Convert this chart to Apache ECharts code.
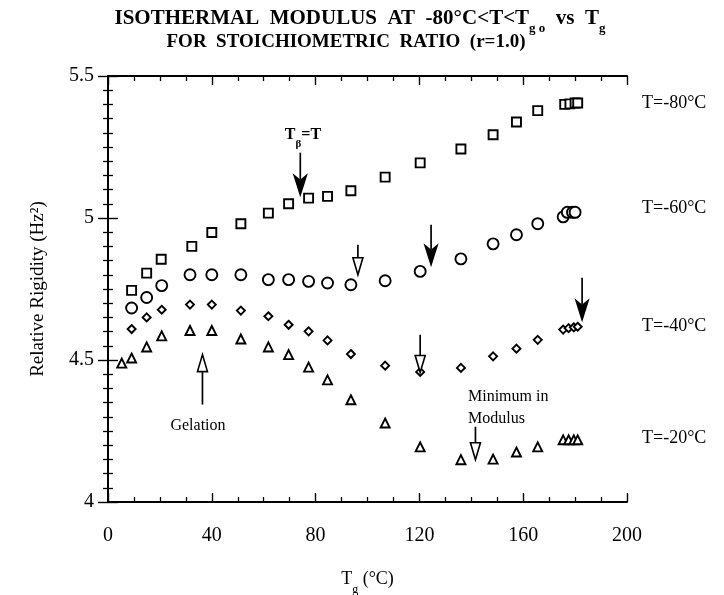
<!DOCTYPE html>
<html><head><meta charset="utf-8">
<script src="https://cdn.jsdelivr.net/npm/echarts@6/dist/echarts.min.js"></script>
<style>html,body{margin:0;padding:0;background:#fff}#c{width:724px;height:595px}</style>
</head><body><div id="c"></div>
<script>
// T = -80 °C (squares)
const sqX = [9.1, 14.9, 20.5, 32.3, 40, 51.2, 61.8, 69.6, 77.3, 84.6, 93.6, 106.8, 120.3, 136, 148.4, 157.4, 165.6, 176, 178, 180, 181];
const sqY = [4.745, 4.806, 4.855, 4.90, 4.949, 4.98, 5.017, 5.05, 5.07, 5.076, 5.096, 5.144, 5.194, 5.243, 5.293, 5.338, 5.378, 5.40, 5.402, 5.405, 5.405];
// T = -60 °C (circles)
const ciX = [9.1, 14.9, 20.7, 31.6, 40, 51.2, 61.8, 69.6, 77.3, 84.6, 93.6, 106.8, 120.3, 136, 148.4, 157.4, 165.6, 175.4, 177, 179, 180];
const ciY = [4.683, 4.72, 4.762, 4.80, 4.80, 4.80, 4.783, 4.783, 4.777, 4.771, 4.765, 4.779, 4.812, 4.856, 4.909, 4.941, 4.98, 5.004, 5.02, 5.02, 5.02];
// T = -40 °C (diamonds)
const diX = [9.1, 14.9, 20.7, 31.6, 40, 51.2, 61.8, 69.6, 77.3, 84.6, 93.6, 106.8, 120.3, 136, 148.4, 157.4, 165.6, 175.4, 177.5, 179.5, 181];
const diY = [4.609, 4.65, 4.677, 4.695, 4.695, 4.674, 4.654, 4.624, 4.601, 4.569, 4.521, 4.48, 4.458, 4.472, 4.513, 4.54, 4.571, 4.607, 4.612, 4.615, 4.617];
// T = -20 °C (triangles)
const trX = [5.3, 9.1, 14.9, 20.7, 31.6, 40, 51.2, 61.8, 69.6, 77.3, 84.6, 93.6, 106.8, 120.3, 136, 148.4, 157.4, 165.6, 175.4, 177.5, 179.5, 181];
const trY = [4.489, 4.507, 4.546, 4.585, 4.604, 4.604, 4.574, 4.546, 4.519, 4.475, 4.43, 4.36, 4.278, 4.194, 4.149, 4.151, 4.176, 4.194, 4.219, 4.219, 4.219, 4.219];
// annotation arrows: x, y start, y tip, filled (1) / open (0)
const arrows = [
  [74.1, 5.230, 5.082, 1],
  [96.3, 4.906, 4.800, 0],
  [124.5, 4.976, 4.836, 1],
  [182.7, 4.790, 4.642, 1],
  [120.3, 4.589, 4.456, 0],
  [141.6, 4.265, 4.149, 0],
  [36.4, 4.343, 4.519, 0]
];
const xTicks = [0, 40, 80, 120, 160, 200];
const yTicks = [4, 4.5, 5, 5.5];
const seriesLabels = ['T=-80°C', 'T=-60°C', 'T=-40°C', 'T=-20°C'];

const FF = '"Liberation Serif","Times New Roman",serif';
const zip = (a, b) => a.map((v, i) => [v, b[i]]);
const chart = echarts.init(document.getElementById('c'));

function sc(name, xs, ys, sym, size) {
  return { type: 'scatter', name, data: zip(xs, ys), symbol: sym, symbolSize: size,
    itemStyle: { color: '#fff', borderColor: '#000', borderWidth: 1.9, opacity: 1 }, z: 3 };
}
function arrowItem(params, api) {
  const x = api.value(0), y1 = api.value(1), y2 = api.value(2), filled = api.value(3);
  const p1 = api.coord([x, y1]), p2 = api.coord([x, y2]);
  const d = p2[1] > p1[1] ? 1 : -1;
  const L = filled ? 19 : 17, W = filled ? 12 : 10;
  const baseY = p2[1] - d * L;
  return { type: 'group', children: [
    { type: 'line', shape: { x1: p1[0], y1: p1[1], x2: p1[0], y2: baseY + (filled ? d * 4 : 0) },
      style: { stroke: '#000', lineWidth: 1.7 } },
    { type: 'polygon', shape: { points: filled
        ? [[p2[0], p2[1]], [p2[0] - W / 2, baseY], [p2[0], baseY + d * 5], [p2[0] + W / 2, baseY]]
        : [[p2[0], p2[1]], [p2[0] - W / 2, baseY], [p2[0] + W / 2, baseY]] },
      style: { fill: filled ? '#000' : '#fff', stroke: '#000', lineWidth: 1.6 } }
  ]};
}

const axisCommon = { axisLine: { lineStyle: { color: '#000', width: 2 } } };
chart.setOption({
  animation: false,
  backgroundColor: '#fff',
  grid: { left: 108, right: 97, top: 76, bottom: 93, containLabel: false, outerBoundsMode: 'none' },
  xAxis: [
    { type: 'value', min: xTicks[0], max: xTicks[xTicks.length - 1], interval: 40, position: 'bottom',
      ...axisCommon, splitLine: { show: false },
      axisTick: { inside: true, length: 9, lineStyle: { color: '#000', width: 1.4 } },
      minorTick: { show: true, splitNumber: 4, length: 5, lineStyle: { color: '#000', width: 1.3 } },
      axisLabel: { color: '#000', fontFamily: FF, fontSize: 20, margin: 24 },
      name: '{a|T}{s|g}{a| (°C)}', nameLocation: 'middle', nameGap: 66,
      nameTextStyle: { rich: {
        a: { fontFamily: FF, fontSize: 18, color: '#000', lineHeight: 22 },
        s: { fontFamily: FF, fontSize: 12, color: '#000', lineHeight: 12, verticalAlign: 'bottom', padding: [0, 0, -6, 0] } } } },
    { type: 'value', min: xTicks[0], max: xTicks[xTicks.length - 1], interval: 40, position: 'top',
      ...axisCommon, splitLine: { show: false }, axisLabel: { show: false },
      axisTick: { inside: true, length: 9, lineStyle: { color: '#000', width: 1.4 } },
      minorTick: { show: true, splitNumber: 4, length: 5, lineStyle: { color: '#000', width: 1.3 } } }
  ],
  yAxis: [
    { type: 'value', min: yTicks[0], max: yTicks[yTicks.length - 1], interval: 0.5, position: 'left',
      ...axisCommon, splitLine: { show: false },
      axisTick: { inside: true, length: 10, lineStyle: { color: '#000', width: 1.4 } },
      minorTick: { show: true, splitNumber: 10, length: 5, lineStyle: { color: '#000', width: 1.3 } },
      axisLabel: { color: '#000', fontFamily: FF, fontSize: 20, margin: 14 },
      name: 'Relative Rigidity (Hz²)', nameLocation: 'middle', nameGap: 60,
      nameTextStyle: { fontFamily: FF, fontSize: 19, color: '#000' } },
    { type: 'value', min: yTicks[0], max: yTicks[yTicks.length - 1], interval: 0.5, position: 'right',
      ...axisCommon, splitLine: { show: false }, axisLabel: { show: false },
      axisTick: { inside: true, length: 10, lineStyle: { color: '#000', width: 1.4 } },
      minorTick: { show: true, splitNumber: 10, length: 5, lineStyle: { color: '#000', width: 1.3 } } }
  ],
  series: [
    sc(seriesLabels[0], sqX, sqY, 'rect', 9),
    sc(seriesLabels[1], ciX, ciY, 'circle', 11),
    sc(seriesLabels[2], diX, diY, 'diamond', 8),
    sc(seriesLabels[3], trX, trY, 'triangle', 9),
    { type: 'custom', name: 'arrows', data: arrows, renderItem: arrowItem,
      encode: { x: 0, y: [1, 2] }, clip: false, z: 4 }
  ],
  graphic: [
    { type: 'text', x: 360, y: 7, style: {
        text: '{a|ISOTHERMAL  MODULUS  AT  -80°C<T<T}{s|g o}{a|  vs  T}{s|g}', textAlign: 'center',
        rich: {
          a: { fontFamily: FF, fontSize: 21, fontWeight: 'bold', fill: '#000', lineHeight: 24 },
          s: { fontFamily: FF, fontSize: 13, fontWeight: 'bold', fill: '#000', lineHeight: 13, verticalAlign: 'bottom', padding: [0, 0, -4, 0] } } } },
    { type: 'text', x: 346, y: 33, style: { text: 'FOR  STOICHIOMETRIC  RATIO  (r=1.0)', textAlign: 'center',
        font: 'bold 19px ' + FF, fill: '#000' } },
    { type: 'text', x: 303, y: 125, style: {
        text: '{a|T}{s|β}{a|=T}', textAlign: 'center',
        rich: { a: { fontFamily: FF, fontSize: 16, fontWeight: 'bold', fill: '#000', lineHeight: 20 },
                s: { fontFamily: FF, fontSize: 11, fontWeight: 'bold', fill: '#000', lineHeight: 10, verticalAlign: 'bottom', padding: [0, 0, -5, 0] } } } },
    { type: 'text', x: 198, y: 418, style: { text: 'Gelation', textAlign: 'center', font: '16px ' + FF, fill: '#000' } },
    { type: 'text', x: 468, y: 386, style: { text: 'Minimum in\nModulus', textAlign: 'left', font: '16px ' + FF, fill: '#000', lineHeight: 22 } },
    { type: 'text', x: 642, y: 94, style: { text: seriesLabels[0], font: '18px ' + FF, fill: '#000' } },
    { type: 'text', x: 642, y: 199, style: { text: seriesLabels[1], font: '18px ' + FF, fill: '#000' } },
    { type: 'text', x: 642, y: 317, style: { text: seriesLabels[2], font: '18px ' + FF, fill: '#000' } },
    { type: 'text', x: 642, y: 429, style: { text: seriesLabels[3], font: '18px ' + FF, fill: '#000' } }
  ]
});
</script></body></html>
